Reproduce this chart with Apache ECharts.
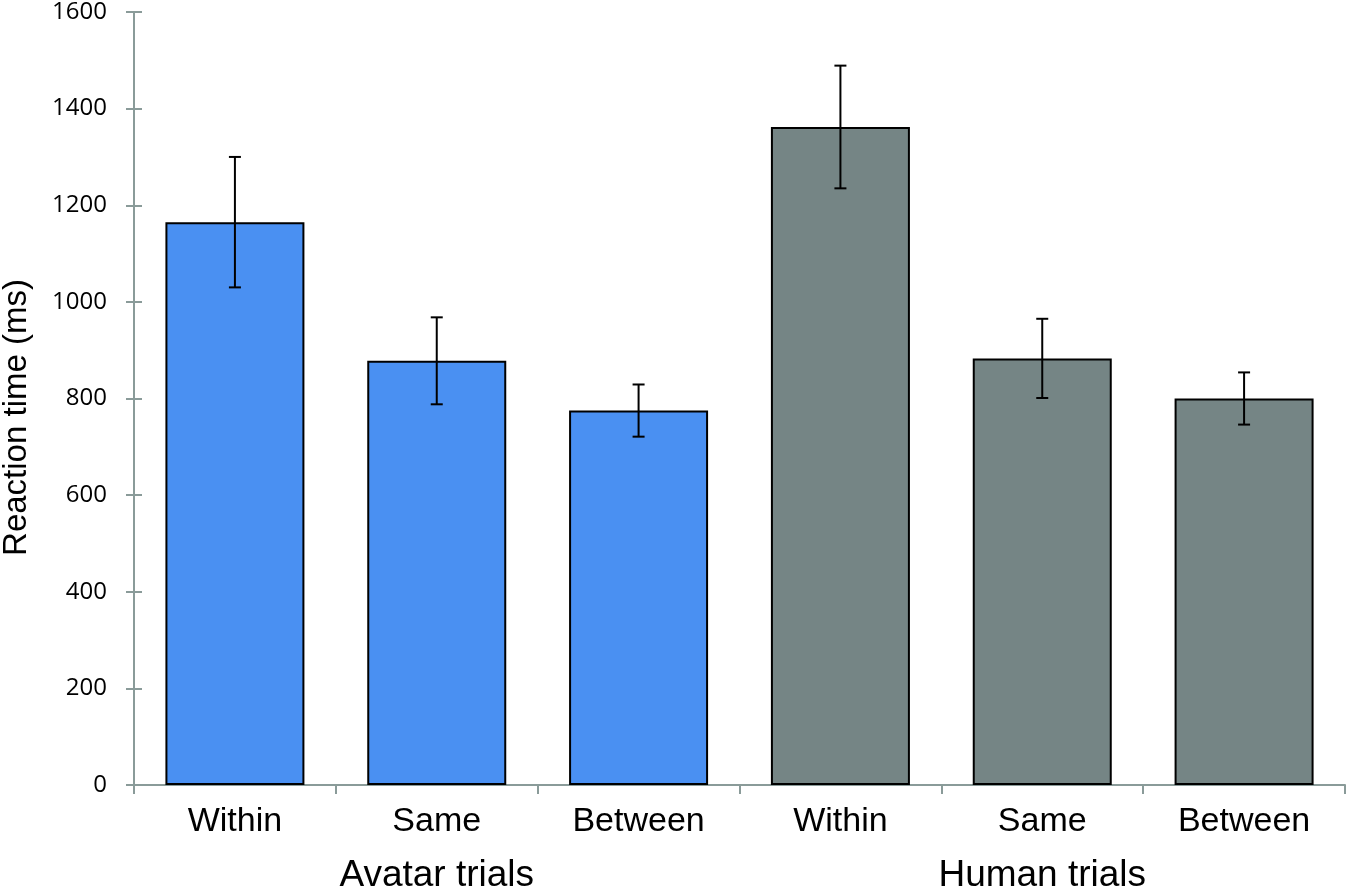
<!DOCTYPE html>
<html>
<head>
<meta charset="utf-8">
<script src="https://cdn.jsdelivr.net/npm/echarts@6/dist/echarts.min.js"></script>
<style>html,body{margin:0;padding:0;background:#fff}#c{width:1350px;height:890px}</style>
</head>
<body>
<div id="c"></div>
<script>
var conditions = ['Within', 'Same', 'Between', 'Within', 'Same', 'Between'];
var groups = ['Avatar trials', 'Human trials'];
var avatarMeans = [1165, 878, 775];
var avatarErr = [135, 90, 54];
var humanMeans = [1362, 883, 800];
var humanErr = [127, 82, 54];
var yTicks = [0, 200, 400, 600, 800, 1000, 1200, 1400, 1600];

var colors = ['#4a90f2', '#758585'];
var means = avatarMeans.concat(humanMeans);
var errs = avatarErr.concat(humanErr);
var barData = means.map(function (v, i) {
  return { value: v, itemStyle: { color: i < 3 ? colors[0] : colors[1] } };
});
var errData = means.map(function (v, i) { return [i, v - errs[i], v + errs[i]]; });

var axisGray = '#8a9b99';
var chart = echarts.init(document.getElementById('c'));
chart.setOption({
  animation: false,
  grid: { left: 134, right: 5, top: 12, bottom: 105, containLabel: false, outerBoundsMode: 'none' },
  xAxis: [{
    type: 'category', data: conditions, position: 'bottom',
    axisLine: { lineStyle: { color: axisGray, width: 2 } },
    axisTick: { show: true, length: 9, lineStyle: { color: axisGray, width: 2 } },
    axisLabel: { color: '#000', fontSize: 34, fontFamily: 'Liberation Sans, Arial, sans-serif', margin: 20 }
  }, {
    type: 'category', data: groups, position: 'bottom', offset: 58,
    axisLine: { show: false }, axisTick: { show: false },
    axisLabel: { color: '#000', fontSize: 37, fontFamily: 'Liberation Sans, Arial, sans-serif', margin: 14 }
  }],
  yAxis: [{
    type: 'value', min: 0, max: 1600, interval: 200,
    name: 'Reaction time (ms)', nameLocation: 'middle', nameGap: 101, nameRotate: 90,
    nameTextStyle: { color: '#000', fontSize: 33, fontFamily: 'Liberation Sans, Arial, sans-serif', padding: [0, 38, 0, 0] },
    axisLine: { show: true, lineStyle: { color: axisGray, width: 2 } },
    axisTick: { show: true, length: 8, lineStyle: { color: axisGray, width: 2 } },
    axisLabel: { color: '#000', fontSize: 24, fontFamily: 'Open Sans, sans-serif', margin: 27,
      formatter: function (v) { return yTicks.indexOf(v) >= 0 ? String(v) : ''; } },
    splitLine: { show: false }
  }, {
    type: 'value', min: 0, max: 1600, interval: 200, position: 'left',
    axisLine: { show: false },
    axisTick: { show: true, inside: true, length: 8, lineStyle: { color: axisGray, width: 2 } },
    axisLabel: { show: false }, splitLine: { show: false }
  }],
  series: [{
    type: 'bar', data: barData, xAxisIndex: 0, yAxisIndex: 0, barWidth: 139,
    itemStyle: { borderColor: '#000', borderWidth: 2 }
  }, {
    type: 'custom', xAxisIndex: 0, yAxisIndex: 0, data: errData, z: 10,
    renderItem: function (params, api) {
      var x = api.value(0);
      var lo = api.coord([x, api.value(1)]);
      var hi = api.coord([x, api.value(2)]);
      var hw = 6;
      var st = { stroke: '#000', lineWidth: 2 };
      return { type: 'group', children: [
        { type: 'line', shape: { x1: lo[0], y1: lo[1], x2: hi[0], y2: hi[1] }, style: st },
        { type: 'line', shape: { x1: lo[0] - hw, y1: lo[1], x2: lo[0] + hw, y2: lo[1] }, style: st },
        { type: 'line', shape: { x1: hi[0] - hw, y1: hi[1], x2: hi[0] + hw, y2: hi[1] }, style: st }
      ] };
    }
  }]
});
</script>
</body>
</html>
